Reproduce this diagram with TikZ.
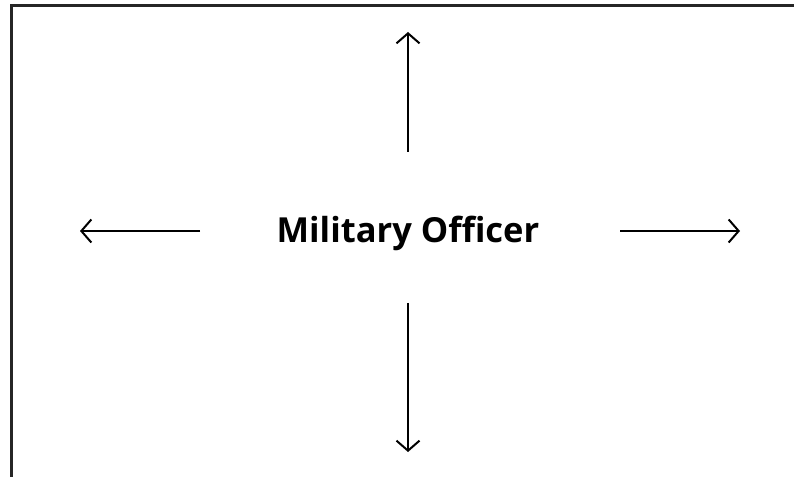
\documentclass[tikz,border=0pt]{standalone}
\usepackage{fontspec}
\setmainfont{Open Sans}
\usetikzlibrary{arrows.meta}
\tikzset{
  pointer/.style={line width=1.8pt,-{Straight Barb[length=10pt,width=23pt,line width=2pt]}}
}
\begin{document}
\begin{tikzpicture}[x=1pt,y=1pt]
      \useasboundingbox (0,0) rectangle (794,476);
      \begin{scope}
        \clip (0,0) rectangle (794,476);
        \draw[line width=3pt,color=black!85] (11,-20) rectangle (820,470);
      \end{scope}
      \node[font=\fontsize{34.5}{40}\selectfont\bfseries] (officer) at (408,243) {Military Officer};
      \draw
        (408,324) coordinate (upfrom)
        (408,444) coordinate (upto)
        (408,173) coordinate (downfrom)
        (408,24) coordinate (downto)
        (200,245) coordinate (leftfrom)
        (80,245) coordinate (leftto)
        (620,245) coordinate (rightfrom)
        (740,245) coordinate (rightto);
      \begin{scope}[pointer]
        \draw (upfrom) to (upto);
        \draw (downfrom) to (downto);
        \draw (leftfrom) to (leftto);
        \draw (rightfrom) to (rightto);
      \end{scope}
    \end{tikzpicture}
\end{document}
